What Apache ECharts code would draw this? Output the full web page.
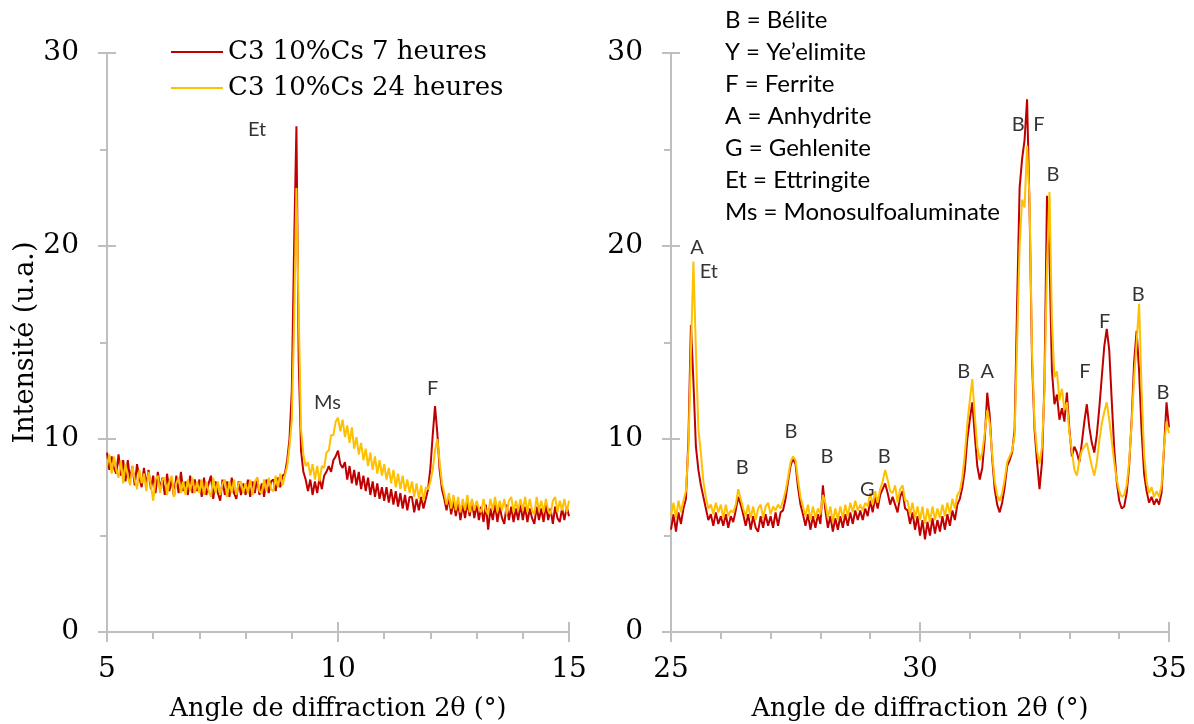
<!DOCTYPE html>
<html>
<head>
<meta charset="utf-8">
<script src="https://cdn.jsdelivr.net/npm/echarts@6/dist/echarts.min.js"></script>
<style>
html,body{margin:0;padding:0;background:#fff;}
#chart{width:1194px;height:724px;}
</style>
</head>
<body>
<div id="chart"></div>
<script>
// ---------- DATA ----------
const name7h = 'C3 10%Cs 7 heures';
const name24h = 'C3 10%Cs 24 heures';
const angleStep = 0.05;           // measurement step (°2θ)
const leftStart = 5, rightStart = 25;
const xTicksLeft = [5, 10, 15];
const xTicksRight = [25, 30, 35];
const yTicks = [0, 10, 20, 30];

// Left panel 5–15 °, one value every 0.05 °
const leftRed7h = [
  9.3, 8.4, 9.1, 8.5, 8.2, 9.2, 8.1, 8.9, 7.8, 8.9, 7.9, 8.6, 7.6, 8.7, 8.0, 7.5, 8.5, 7.6, 8.4, 7.4,
  8.1, 7.2, 8.3, 7.4, 8.0, 7.1, 8.2, 7.3, 7.9, 7.0, 8.1, 7.2, 8.3, 7.3, 7.8, 7.1, 8.1, 7.2, 7.9, 7.3,
  7.9, 7.0, 8.0, 7.1, 7.7, 8.1, 6.9, 7.8, 7.2, 6.8, 7.9, 7.1, 7.8, 7.0, 8.0, 7.2, 6.9, 7.8, 7.1, 7.7,
  7.1, 7.9, 7.0, 7.8, 7.2, 8.0, 7.1, 7.7, 7.0, 7.9, 7.2, 7.8, 7.9, 7.3, 8.0, 7.5, 8.1, 8.2, 8.9, 10.0,
  12.5, 20.0, 26.2, 14.0, 9.4, 8.3, 7.9, 7.3, 7.9, 7.1, 7.8, 7.2, 8.0, 7.4, 8.1, 8.3, 8.6, 8.3, 8.9, 9.1,
  9.4, 8.7, 8.5, 8.8, 7.9, 8.6, 7.7, 8.4, 7.6, 8.3, 7.4, 8.1, 7.3, 8.0, 7.1, 7.8, 7.0, 7.7, 6.9, 7.5,
  6.8, 7.5, 6.7, 7.4, 6.6, 7.3, 6.5, 7.2, 6.4, 7.1, 6.3, 7.0, 7.0, 6.2, 6.9, 6.3, 7.0, 6.4, 6.9, 7.4,
  8.5, 10.2, 11.7, 10.3, 8.4, 7.4, 6.9, 6.3, 7.0, 6.1, 6.8, 6.0, 6.7, 5.8, 6.6, 5.9, 6.7, 6.0, 6.8, 5.9,
  6.6, 5.8, 6.5, 5.7, 6.6, 5.3, 6.4, 5.8, 6.6, 5.7, 6.5, 5.9, 5.6, 6.6, 5.8, 6.5, 5.7, 6.4, 5.8, 6.6,
  5.8, 6.5, 5.7, 6.4, 5.9, 5.6, 6.5, 5.8, 6.4, 5.7, 6.6, 5.8, 6.4, 5.6, 6.5, 5.9, 5.7, 6.4, 5.8, 6.5, 6.0
];
const leftYellow24h = [
  8.6, 9.2, 8.2, 9.1, 8.4, 8.0, 8.9, 7.7, 8.7, 8.1, 7.6, 8.6, 7.9, 7.4, 8.4, 7.7, 8.2, 7.3, 8.3, 7.6,
  6.8, 7.9, 8.1, 7.2, 7.9, 8.0, 7.1, 7.8, 8.1, 7.0, 7.7, 8.0, 7.2, 7.8, 7.1, 7.9, 7.3, 8.0, 7.2, 7.8,
  7.2, 7.9, 7.1, 7.8, 7.3, 7.0, 8.0, 7.2, 7.8, 7.1, 7.7, 7.9, 7.0, 7.8, 7.2, 7.9, 7.1, 7.7, 7.8, 7.2,
  7.7, 7.2, 7.9, 7.1, 7.8, 8.0, 7.3, 7.2, 7.9, 7.3, 8.0, 7.4, 7.3, 8.1, 7.5, 8.2, 7.6, 8.1, 8.6, 9.6,
  11.0, 16.0, 23.0, 16.5, 10.5, 9.2, 8.6, 8.8, 8.1, 8.7, 7.9, 8.6, 7.8, 8.6, 8.5, 9.3, 9.4, 10.2, 10.2, 10.9,
  11.1, 10.4, 11.0, 10.1, 10.7, 9.8, 10.6, 9.5, 10.1, 9.2, 9.8, 8.9, 9.5, 8.6, 9.3, 8.4, 9.1, 8.2, 8.9, 8.1,
  8.7, 7.9, 8.5, 7.7, 8.4, 7.5, 8.2, 7.4, 8.1, 7.3, 7.9, 7.2, 7.8, 7.0, 7.7, 6.9, 7.6, 6.8, 7.5, 7.4,
  7.8, 8.4, 9.4, 10.0, 8.8, 7.7, 7.2, 6.6, 7.2, 6.4, 7.1, 6.3, 7.0, 6.2, 6.9, 6.3, 7.1, 6.2, 6.9, 6.3,
  6.8, 6.4, 6.2, 6.9, 6.3, 6.1, 6.9, 6.3, 7.0, 6.2, 6.8, 6.3, 6.9, 6.1, 6.8, 7.0, 6.2, 6.8, 6.3, 6.9,
  6.3, 7.0, 6.2, 6.9, 6.3, 6.1, 7.0, 6.3, 6.8, 6.2, 6.9, 6.3, 6.1, 6.8, 7.0, 6.2, 6.8, 6.3, 6.9, 6.2, 6.8
];

// Right panel 25–35 °, one value every 0.05 °
const rightRed7h = [
  5.3, 6.1, 5.2, 6.2, 5.6, 6.4, 6.9, 10.0, 15.9, 13.0, 9.6, 8.4, 7.6, 7.0, 6.4, 5.8, 6.1, 5.5, 6.2, 5.6,
  6.0, 5.5, 6.1, 5.4, 6.0, 5.7, 6.3, 7.0, 6.6, 6.1, 5.5, 6.1, 5.3, 6.0, 5.4, 5.2, 6.0, 5.4, 6.1, 5.5,
  6.0, 5.4, 6.2, 5.5, 6.2, 6.3, 6.9, 7.8, 8.6, 9.0, 8.7, 7.5, 6.6, 6.1, 5.5, 6.1, 5.3, 6.0, 5.4, 6.1,
  5.6, 7.6, 6.3, 5.4, 6.0, 5.2, 5.9, 5.3, 6.0, 5.4, 6.1, 5.5, 6.2, 5.6, 6.3, 5.8, 6.3, 5.8, 6.4, 6.0,
  6.8, 6.2, 7.0, 6.4, 7.1, 7.4, 7.7, 7.2, 6.6, 7.0, 6.6, 6.2, 7.0, 7.3, 6.4, 6.3, 5.6, 6.2, 5.3, 6.0,
  5.0, 5.8, 4.8, 5.7, 5.0, 5.9, 5.1, 5.8, 5.2, 6.0, 5.3, 6.1, 5.5, 6.3, 5.8, 6.6, 6.9, 7.5, 8.4, 10.0,
  11.0, 11.9, 10.2, 8.6, 7.9, 8.5, 10.0, 12.4, 11.2, 9.0, 7.4, 6.6, 6.2, 6.7, 7.5, 8.6, 8.9, 9.3, 10.5, 17.0,
  23.0, 24.5, 25.5, 27.6, 22.0, 14.0, 10.5, 8.8, 7.4, 8.8, 13.0, 22.6, 19.5, 13.5, 11.8, 12.3, 11.0, 11.6, 10.9, 12.4,
  10.5, 9.1, 9.6, 9.3, 8.8, 9.8, 10.9, 11.8, 10.6, 9.8, 9.3, 10.2, 11.6, 13.2, 14.8, 15.7, 14.6, 12.0, 9.5, 7.8,
  6.8, 6.4, 6.5, 7.2, 8.6, 11.0, 14.0, 15.6, 13.5, 10.4, 8.2, 7.3, 6.7, 7.0, 6.6, 6.9, 6.6, 7.2, 9.5, 11.9, 10.6
];
const rightYellow24h = [
  6.0, 6.7, 5.9, 6.8, 6.2, 6.8, 7.3, 9.5, 14.5, 19.2, 14.6, 10.5, 9.3, 7.8, 7.0, 6.4, 6.6, 6.1, 6.7, 6.2,
  6.6, 5.9, 6.6, 6.0, 6.3, 6.2, 6.6, 7.4, 6.9, 6.4, 6.0, 6.6, 5.9, 6.5, 5.8, 6.4, 6.6, 5.9, 6.5, 6.7,
  6.1, 6.5, 6.3, 6.6, 6.4, 6.8, 7.3, 8.0, 8.8, 9.1, 8.9, 7.9, 7.0, 6.5, 6.0, 6.6, 5.8, 6.5, 5.9, 6.4,
  6.1, 7.1, 6.7, 5.9, 6.5, 5.7, 6.4, 5.8, 6.5, 5.9, 6.6, 6.0, 6.7, 6.2, 6.8, 6.3, 6.6, 6.3, 6.7, 6.5,
  7.2, 6.6, 7.3, 6.7, 7.4, 7.8, 8.4, 7.9, 7.3, 7.2, 7.6, 6.7, 7.4, 7.6, 6.8, 6.8, 6.1, 6.7, 5.9, 6.5,
  5.8, 6.5, 5.6, 6.4, 5.7, 6.5, 5.8, 6.4, 5.9, 6.6, 6.0, 6.7, 6.1, 6.9, 6.4, 7.1, 7.3, 8.0, 9.2, 10.8,
  12.0, 13.1, 11.2, 9.6, 8.9, 9.3, 10.3, 11.5, 10.8, 9.2, 7.8, 7.1, 6.8, 7.2, 7.9, 8.8, 9.1, 9.4, 10.2, 15.0,
  20.0, 22.4, 22.0, 25.2, 22.4, 14.5, 10.8, 9.4, 8.7, 9.6, 12.5, 19.0, 22.8, 16.0, 13.2, 13.5, 12.0, 12.6, 11.5, 11.9,
  10.3, 9.4, 8.4, 8.1, 8.9, 9.4, 9.6, 9.8, 9.2, 8.6, 8.1, 8.8, 9.9, 10.8, 11.4, 11.9, 11.0, 9.9, 8.8, 7.9,
  7.3, 7.0, 7.1, 7.6, 8.8, 10.8, 13.2, 15.0, 17.0, 12.5, 9.2, 7.8, 7.2, 7.5, 7.0, 7.3, 7.0, 7.6, 9.6, 10.9, 10.3
];

// Phase labels (angle, intensity where the label sits)
const leftPeakNames = ['Et', 'Ms', 'F'];
const leftPeakAngles = [8.25, 9.77, 12.05];
const leftPeakLevels = [26.05, 11.9, 12.6];
const rightPeakNames = ['A', 'Et', 'B', 'B', 'B', 'G', 'B', 'B', 'A', 'B', 'F', 'B', 'F', 'F', 'B', 'B'];
const rightPeakAngles = [25.52, 25.76, 26.43, 27.41, 28.13, 28.94, 29.28, 30.88, 31.35, 31.97, 32.39, 32.67, 33.31, 33.71, 34.38, 34.88];
const rightPeakLevels = [19.9, 18.7, 8.5, 10.4, 9.1, 7.4, 9.1, 13.5, 13.5, 26.3, 26.3, 23.7, 13.5, 16.1, 17.5, 12.4];

const phaseKey = [
  'B = Bélite',
  'Y = Ye’elimite',
  'F = Ferrite',
  'A = Anhydrite',
  'G = Gehlenite',
  'Et = Ettringite',
  'Ms = Monosulfoaluminate'
];

// ---------- BUILD ----------
function pairs(start, values) {
  return values.map((v, i) => [+(start + i * angleStep).toFixed(2), v]);
}
function labels(names, angles, levels) {
  return names.map((n, i) => ({ name: n, value: [angles[i], levels[i]] }));
}

const RED = '#C00000', YELLOW = '#FFC000', AXIS = '#bfbfbf';
const SERIF = 'DejaVu Serif', SANS = 'Lato';

function mainX(grid, ticks) {
  return {
    type: 'value', gridIndex: grid, position: 'bottom',
    min: ticks[0], max: ticks[ticks.length - 1], interval: ticks[1] - ticks[0],
    axisLine: { show: true, onZero: false, lineStyle: { color: AXIS, width: 2 } },
    axisTick: { show: true, length: 10, lineStyle: { color: AXIS, width: 2 } },
    minorTick: { show: true, splitNumber: 5, length: 7, lineStyle: { color: AXIS, width: 2 } },
    splitLine: { show: false },
    axisLabel: { color: '#000', fontFamily: SERIF, fontSize: 28, margin: 24 },
    name: 'Angle de diffraction 2θ (°)', nameLocation: 'middle', nameGap: 64,
    nameTextStyle: { color: '#000', fontFamily: SERIF, fontSize: 25.5 }
  };
}
function innerX(grid, ticks) {
  return {
    type: 'value', gridIndex: grid, position: 'bottom',
    min: ticks[0], max: ticks[ticks.length - 1], interval: ticks[1] - ticks[0],
    axisLine: { show: false, onZero: false },
    axisTick: { show: true, inside: true, length: 10, lineStyle: { color: AXIS, width: 2 } },
    axisLabel: { show: false }, splitLine: { show: false }
  };
}
function mainY(grid, withName) {
  const o = {
    type: 'value', gridIndex: grid, position: 'left',
    min: yTicks[0], max: yTicks[yTicks.length - 1], interval: yTicks[1] - yTicks[0],
    axisLine: { show: true, onZero: false, lineStyle: { color: AXIS, width: 2 } },
    axisTick: { show: true, length: 9, lineStyle: { color: AXIS, width: 2 } },
    minorTick: { show: true, splitNumber: 2, length: 7, lineStyle: { color: AXIS, width: 2 } },
    splitLine: { show: false },
    axisLabel: { color: '#000', fontFamily: SERIF, fontSize: 28, margin: 28 }
  };
  if (withName) {
    o.name = 'Intensité (u.a.)';
    o.nameLocation = 'middle';
    o.nameGap = 66;
    o.nameTextStyle = { color: '#000', fontFamily: SERIF, fontSize: 27 };
  }
  return o;
}
function innerY(grid) {
  return {
    type: 'value', gridIndex: grid, position: 'left',
    min: yTicks[0], max: yTicks[yTicks.length - 1], interval: yTicks[1] - yTicks[0],
    axisLine: { show: false, onZero: false },
    axisTick: { show: true, inside: true, length: 9, lineStyle: { color: AXIS, width: 2 } },
    axisLabel: { show: false }, splitLine: { show: false }
  };
}
function lineSeries(name, color, xi, data) {
  return {
    name, type: 'line', xAxisIndex: xi, yAxisIndex: xi, data,
    symbol: 'none', showSymbol: false,
    lineStyle: { color, width: 2 }, itemStyle: { color },
    animation: false, z: color === YELLOW ? 3 : 2
  };
}
function labelSeries(xi, data) {
  return {
    type: 'scatter', xAxisIndex: xi, yAxisIndex: xi, data, symbolSize: 0, silent: true,
    label: { show: true, position: 'inside', formatter: '{b}', color: '#000', fontFamily: SANS, fontSize: 20 },
    animation: false, z: 5
  };
}

const chart = echarts.init(document.getElementById('chart'), null, { renderer: 'canvas' });
chart.setOption({
  backgroundColor: '#fff',
  animation: false,
  grid: [
    { left: 107, right: 625, top: 53, bottom: 92, outerBoundsMode: 'none', containLabel: false },
    { left: 671, right: 25, top: 53, bottom: 92, outerBoundsMode: 'none', containLabel: false }
  ],
  xAxis: [mainX(0, xTicksLeft), mainX(1, xTicksRight), innerX(0, xTicksLeft), innerX(1, xTicksRight)],
  yAxis: [mainY(0, true), mainY(1, false), innerY(0), innerY(1)],
  legend: {
    data: [name7h, name24h], orient: 'vertical', left: 171, top: 37, padding: 0,
    icon: 'rect', itemWidth: 52, itemHeight: 2, itemGap: 6,
    textStyle: { color: '#000', fontFamily: SERIF, fontSize: 26, lineHeight: 30 }
  },
  graphic: [{
    type: 'text', left: 725, top: 4,
    style: { text: phaseKey.join('\n'), fontFamily: SANS, fontSize: 24, lineHeight: 32, fill: '#000' }
  }],
  series: [
    lineSeries(name7h, RED, 0, pairs(leftStart, leftRed7h)),
    lineSeries(name24h, YELLOW, 0, pairs(leftStart, leftYellow24h)),
    lineSeries(name7h, RED, 1, pairs(rightStart, rightRed7h)),
    lineSeries(name24h, YELLOW, 1, pairs(rightStart, rightYellow24h)),
    labelSeries(0, labels(leftPeakNames, leftPeakAngles, leftPeakLevels)),
    labelSeries(1, labels(rightPeakNames, rightPeakAngles, rightPeakLevels))
  ]
});
</script>
</body>
</html>
